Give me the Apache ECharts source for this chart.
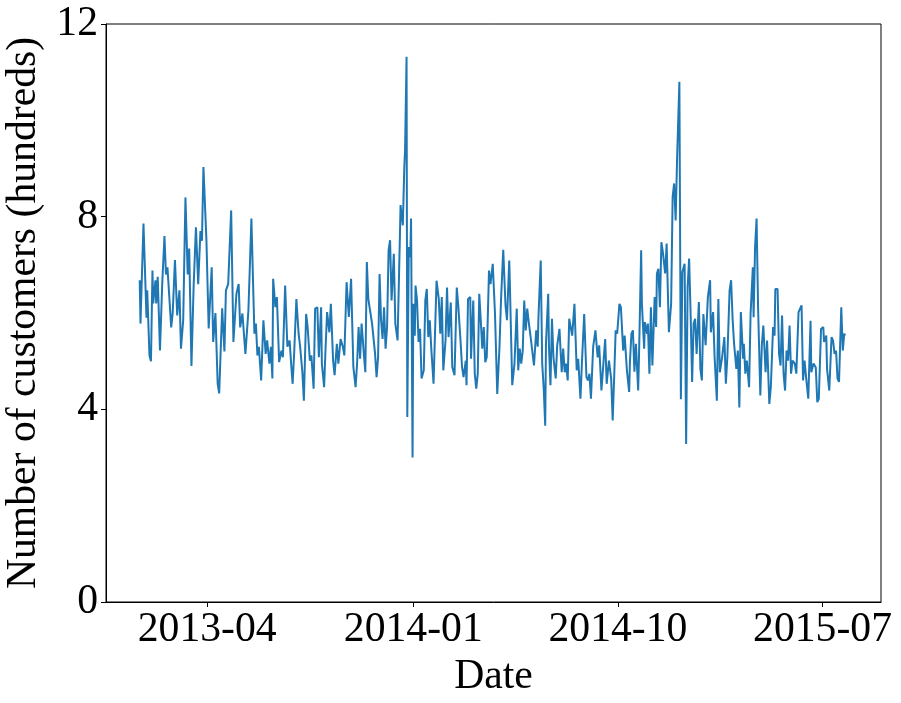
<!DOCTYPE html>
<html><head><meta charset="utf-8">
<script src="https://cdn.jsdelivr.net/npm/echarts@6/dist/echarts.min.js"></script>
<style>html,body{margin:0;padding:0;background:#fff}#c{width:901px;height:703px}</style>
</head><body><div id="c"></div>
<script>
const START_DATE = '2013-01-01';
// days since START_DATE for each point
const dayOffsets = [
0,1,5,9,10,13,15,17,18,21,22,24,27,30,33,35,37,40,42,44,47,50,53,55,58,61,64,66,69,72,75,78,81,83,85,89,92,96,98,101,104,106,110,113,115,118,122,125,129,132,134,137,141,145,149,
153,155,157,159,162,165,168,170,173,175,177,178,181,183,186,189,191,194,197,200,202,204,206,209,212,214,217,219,222,224,227,229,232,234,237,239,242,243,246,248,250,253,255,258,260,263,265,268,271,273,276,279,282,285,288,290,292,294,296,299,301,303,305,307,310,
314,316,318,320,322,324,326,328,330,332,334,336,339,341,344,347,348,350,351,353,354,356,357,359,361,362,364,365,367,368,370,372,374,376,379,381,383,385,387,389,392,396,399,401,403,405,408,410,412,415,417,420,423,425,428,430,432,435,436,438,441,442,445,447,449,451,453,455,457,459,461,463,466,468,
471,474,477,480,482,485,488,490,493,494,497,500,503,505,507,509,511,513,515,517,519,521,523,526,529,531,532,535,537,539,541,542,545,546,548,550,552,555,557,560,563,565,567,569,571,573,575,577,580,583,585,588,590,593,596,598,600,602,605,608,611,613,616,618,621,623,626,629,631,633,635,
637,640,642,645,647,650,653,654,656,658,660,662,665,666,669,670,673,674,677,678,680,682,684,685,687,689,690,692,694,696,698,701,703,706,709,711,713,715,717,720,722,724,727,729,731,733,735,737,739,741,743,746,748,750,752,755,758,761,762,765,767,770,772,774,777,780,782,784,787,789,
791,793,796,798,800,802,804,805,806,808,810,813,815,818,819,821,823,825,828,830,832,835,837,840,842,845,847,848,851,853,855,857,859,861,863,865,867,869,871,874,876,879,881,883,885,887,889,892,895,896,899,902,904,906,909,912,913,916,917,920,923,925,927,929,931,933,936,938,940,941
];
// number of customers (hundreds)
const customers = [
6.68,5.78,7.86,5.9,6.47,5.12,5.0,6.88,6.2,6.68,6.2,6.75,5.22,6.6,7.6,6.8,6.95,6.2,5.7,6.0,7.1,5.95,6.47,5.26,5.85,8.4,6.8,7.34,4.9,6.6,7.78,6.6,7.7,7.5,9.03,7.5,5.68,6.95,5.4,6.0,4.53,4.33,6.1,5.2,6.47,6.6,8.13,5.4,6.4,6.6,5.7,5.99,5.15,6.05,7.96,
5.57,5.78,5.12,5.3,4.6,5.85,5.15,5.43,4.95,5.3,4.64,6.71,6.12,6.33,4.98,5.22,5.08,6.57,5.3,5.43,4.95,4.53,5.15,6.29,5.57,5.3,4.77,4.18,5.98,5.71,5.01,5.12,4.43,6.09,6.12,5.08,6.12,4.95,4.46,5.3,6.02,5.6,6.19,5.01,4.71,5.36,4.95,5.46,5.3,5.12,6.64,5.92,6.71,4.88,4.46,4.95,5.71,5.05,5.78,5.15,4.77,7.06,6.29,6.26,5.78,
5.15,4.67,5.08,6.81,5.85,5.46,6.12,5.26,5.71,7.3,7.51,6.26,7.23,5.78,5.43,7.51,8.24,8.27,7.82,9.03,9.37,11.32,3.84,7.37,7.16,7.96,3.0,6.19,5.53,6.57,6.26,5.4,5.67,4.64,4.81,6.26,6.5,5.5,5.85,5.26,4.53,6.67,6.29,5.57,6.33,4.81,5.43,6.53,5.5,6.22,4.88,4.71,6.53,6.15,5.43,4.88,4.67,5.01,4.5,6.29,6.33,5.05,6.26,4.74,4.43,4.74,6.4,5.85,5.26,5.71,4.98,5.08,6.88,6.6,
7.02,5.98,4.32,5.3,6.26,7.31,6.16,5.85,7.09,6.5,4.5,4.95,6.09,4.81,5.26,4.95,5.22,6.26,5.64,6.09,5.81,5.57,5.6,4.91,5.64,5.3,5.92,7.09,4.95,4.43,3.66,5.36,6.4,5.3,4.5,5.88,5.08,4.64,5.33,5.67,4.77,5.26,4.77,4.95,4.6,5.88,5.85,5.53,6.19,4.81,5.05,4.22,4.98,5.98,4.67,4.6,4.74,4.22,5.3,5.64,5.08,5.33,4.39,4.39,5.46,4.53,5.01,4.64,3.77,4.67,5.64,
5.57,6.19,6.12,5.22,5.53,4.81,4.36,4.98,5.57,5.64,4.78,5.36,4.39,5.01,7.3,6.19,5.26,5.81,5.57,5.78,4.74,6.12,4.91,4.95,6.33,5.71,6.82,6.92,6.12,7.47,7.26,6.82,7.44,5.6,6.19,8.41,8.69,7.92,9.24,10.8,4.21,6.85,7.02,3.28,6.54,7.13,5.98,4.57,5.78,5.88,5.15,6.23,4.84,4.6,5.98,5.33,6.33,6.68,5.6,6.02,5.08,4.18,6.29,4.77,5.08,5.5,4.53,5.08,6.47,6.68,
5.88,5.36,4.84,5.22,4.04,6.02,6.05,5.05,5.36,4.74,5.01,4.46,5.98,6.95,5.91,7.37,7.96,6.12,4.29,5.33,5.74,4.77,5.43,4.11,4.46,5.71,5.53,6.5,6.5,5.15,4.91,5.95,4.74,4.39,5.22,5.01,5.74,4.74,5.01,4.95,4.74,6.02,6.05,6.16,4.6,5.01,4.67,4.22,5.84,4.77,4.95,4.87,4.15,4.22,5.67,5.71,5.4,5.53,4.84,4.39,5.5,5.43,5.15,5.22,4.64,4.57,6.12,5.22,5.57,5.53
];
const xTickLabels = ['2013-04', '2014-01', '2014-10', '2015-07'];
const yTickValues = [0, 4, 8, 12];
const xAxisPadDays = [-45, 989];

const DAY = 86400000;
const t0 = Date.parse(START_DATE + 'T00:00:00Z');
const seriesData = dayOffsets.map((d, i) => [d, customers[i]]);
const xTickDays = xTickLabels.map(s => Math.round((Date.parse(s + '-01T00:00:00Z') - t0) / DAY));
const FONT = 'Liberation Serif, Times New Roman, serif';
const FS = 41.7;
function fmtMonth(v) {
  const d = new Date(t0 + v * DAY);
  return d.getUTCFullYear() + '-' + String(d.getUTCMonth() + 1).padStart(2, '0');
}

const chart = echarts.init(document.getElementById('c'), null, {renderer: 'canvas'});
chart.setOption({
  animation: false,
  backgroundColor: '#fff',
  grid: {left: 106, right: 20, top: 24, bottom: 101, outerBoundsMode: 'none', containLabel: false,
         show: true, borderColor: '#000', borderWidth: 1, backgroundColor: 'transparent'},
  xAxis: {
    type: 'value',
    min: xAxisPadDays[0],
    max: xAxisPadDays[1],
    name: 'Date', nameLocation: 'middle', nameGap: 42,
    nameTextStyle: {fontFamily: FONT, fontSize: FS, color: '#000'},
    axisLine: {show: true, onZero: false, lineStyle: {color: '#000', width: 1}},
    axisTick: {show: true, length: 5, lineStyle: {color: '#000', width: 1}, customValues: xTickDays},
    axisLabel: {customValues: xTickDays, formatter: fmtMonth, fontFamily: FONT, fontSize: FS, color: '#000', margin: 7, hideOverlap: false},
    splitLine: {show: false}
  },
  yAxis: {
    type: 'value', min: yTickValues[0], max: yTickValues[yTickValues.length - 1], interval: 4,
    name: 'Number of customers (hundreds)', nameLocation: 'middle', nameGap: 56, nameRotate: 90,
    nameTextStyle: {fontFamily: FONT, fontSize: FS, color: '#000'},
    axisLine: {show: true, onZero: false, lineStyle: {color: '#000', width: 1}},
    axisTick: {show: true, length: 5, lineStyle: {color: '#000', width: 1}},
    axisLabel: {fontFamily: FONT, fontSize: FS, color: '#000', margin: 8},
    splitLine: {show: false}
  },
  series: [{
    type: 'line', data: seriesData, showSymbol: false, symbol: 'none',
    lineStyle: {color: '#1f77b4', width: 2}, itemStyle: {color: '#1f77b4'}
  }]
});
</script></body></html>
